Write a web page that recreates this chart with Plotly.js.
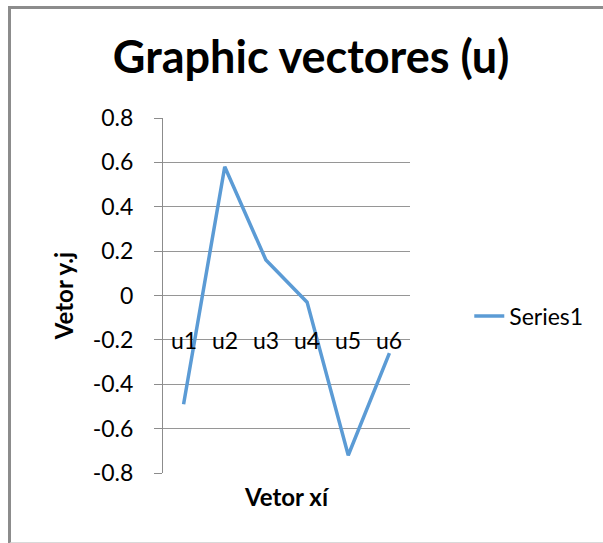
<!DOCTYPE html>
<html>
<head>
<meta charset="utf-8">
<script src="https://cdn.plot.ly/plotly-3.0.1.min.js"></script>
<style>
html,body{margin:0;padding:0;background:#fff;}
#frame{position:absolute;left:8px;top:6px;width:600px;height:533px;border-left:3px solid #8c8c8c;border-top:3px solid #8c8c8c;border-bottom:2px solid #d9d9d9;}
#chart{position:absolute;left:0;top:0;width:603px;height:543px;}
</style>
</head>
<body>
<div id="frame"></div>
<div id="chart"></div>
<script>
const categories = ["u1","u2","u3","u4","u5","u6"];
const series1 = [-0.49, 0.58, 0.16, -0.03, -0.72, -0.26];
const yTicks = [0.8,0.6,0.4,0.2,0,-0.2,-0.4,-0.6,-0.8];
const yTickText = ["0.8","0.6","0.4","0.2","0","-0.2","-0.4","-0.6","-0.8"];
const labelLevel = -0.2;

const font = "Lato, Open Sans, sans-serif";

const trace = {
  x: categories, y: series1, type: "scatter", mode: "lines", name: "Series1",
  line: {color: "#5b9bd5", width: 3.5}
};

const annotations = categories.map(c => ({
  x: c, y: labelLevel, xref: "x", yref: "y", text: c, showarrow: false,
  font: {family: font, size: 23, color: "#000"}, xanchor: "center", yanchor: "middle"
}));

const layout = {
  width: 603, height: 543,
  paper_bgcolor: "rgba(0,0,0,0)", plot_bgcolor: "rgba(0,0,0,0)",
  margin: {l: 163, r: 193, t: 118, b: 70, pad: 0},
  title: {text: "<b>Graphic vectores (u)</b>", x: 0.516, xanchor: "center", y: 0.895, yanchor: "middle",
          font: {family: font, size: 45, color: "#000"}},
  xaxis: {type: "category", range: [-0.5, 5.5], showticklabels: false, showgrid: false, zeroline: false,
          showline: false, ticks: "",
          title: {text: "<b>Vetor xí</b>", font: {family: font, size: 24, color: "#000"}, standoff: 16}},
  yaxis: {range: [-0.8, 0.8], tickvals: yTicks, ticktext: yTickText, showgrid: true, gridcolor: "#969696", gridwidth: 1,
          zeroline: false, showline: true, linecolor: "#8c8c8c", linewidth: 1, ticks: "outside", ticklen: 8,
          tickcolor: "#8c8c8c", tickfont: {family: font, size: 23, color: "#000"}, ticklabelstandoff: 16,
          title: {text: "<b>Vetor y.j</b>", font: {family: font, size: 24, color: "#000"}, standoff: 12}},
  showlegend: true,
  legend: {x: 1.24, y: 0.442, xanchor: "left", yanchor: "middle", font: {family: font, size: 23, color: "#000"},
           bgcolor: "rgba(0,0,0,0)"},
  annotations: annotations
};

Plotly.newPlot("chart", [trace], layout, {staticPlot: true});
</script>
</body>
</html>
